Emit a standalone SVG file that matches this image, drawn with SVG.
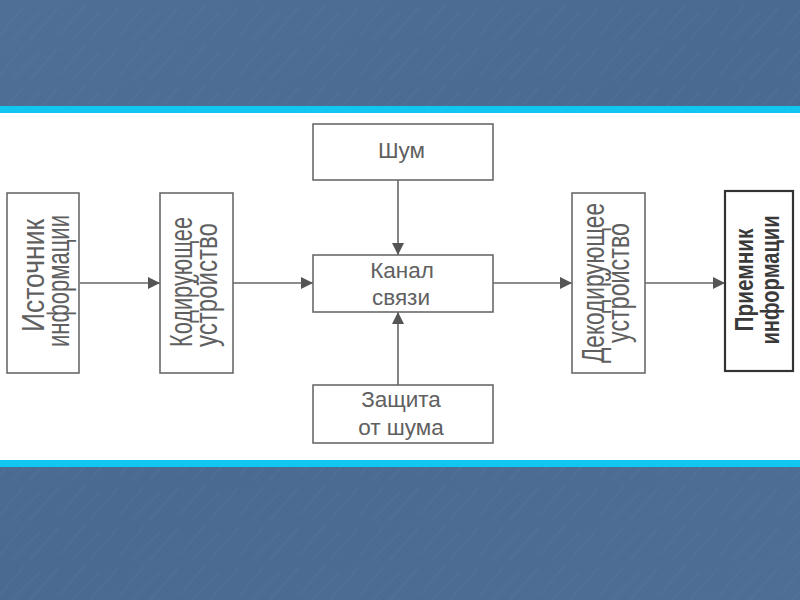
<svg xmlns="http://www.w3.org/2000/svg" width="800" height="600" viewBox="0 0 800 600">
  <defs>
    <linearGradient id="bg" x1="0" y1="0" x2="1" y2="1">
      <stop offset="0" stop-color="#4f6f97"/>
      <stop offset="0.5" stop-color="#4a6a91"/>
      <stop offset="1" stop-color="#4e6e96"/>
    </linearGradient>
    <pattern id="tex" width="60" height="40" patternUnits="userSpaceOnUse">
      <path d="M0,35 L25,5 M30,40 L58,8 M12,40 L40,12" stroke="#8aa2c0" stroke-width="1.2" stroke-opacity="0.08" fill="none"/>
    </pattern>
    <marker id="ah" viewBox="0 0 12 12" refX="12" refY="6" markerWidth="12" markerHeight="12" markerUnits="userSpaceOnUse" orient="auto">
      <path d="M0,0 L12,6 L0,12 z" fill="#555"/>
    </marker>
    <style>
      .box { fill: #fff; stroke: #6a6a6a; stroke-width: 1.6; }
      .box2 { fill: #fff; stroke: #333; stroke-width: 2.2; }
      .t { font-family: "Liberation Sans", Arial, sans-serif; fill: #606060; }
      .v { font-size: 31px; text-anchor: middle; }
      .vb { font-size: 25px; font-weight: bold; text-anchor: middle; fill: #3a3a3a; }
      .h { font-size: 22.5px; text-anchor: middle; }
      .c { stroke: #666; stroke-width: 1.6; fill: none; marker-end: url(#ah); }
    </style>
  </defs>

  <rect x="0" y="0" width="800" height="600" fill="url(#bg)"/>
  <rect x="0" y="0" width="800" height="600" fill="url(#tex)"/>
  <rect x="0" y="106" width="800" height="7" fill="#12c6f2"/>
  <rect x="0" y="113" width="800" height="347" fill="#ffffff"/>
  <rect x="0" y="460" width="800" height="7" fill="#12c6f2"/>

  <g id="connectors">
    <line class="c" x1="80" y1="283" x2="160" y2="283"/>
    <line class="c" x1="233" y1="283" x2="313" y2="283"/>
    <line class="c" x1="493" y1="283" x2="572" y2="283"/>
    <line class="c" x1="645" y1="283" x2="725" y2="283"/>
    <line class="c" x1="398" y1="180" x2="398" y2="255"/>
    <line class="c" x1="398" y1="385" x2="398" y2="312"/>
  </g>

  <g id="source">
    <rect class="box" x="7" y="193" width="72" height="180"/>
    <text class="t v" transform="translate(44,275.5) rotate(-90)" textLength="113" lengthAdjust="spacingAndGlyphs">Источник</text>
    <text class="t v" transform="translate(69,281) rotate(-90)" textLength="132" lengthAdjust="spacingAndGlyphs">информации</text>
  </g>

  <g id="encoder">
    <rect class="box" x="160" y="193" width="73" height="180"/>
    <text class="t v" transform="translate(192,282) rotate(-90)" textLength="130" lengthAdjust="spacingAndGlyphs">Кодирующее</text>
    <text class="t v" transform="translate(217,285) rotate(-90)" textLength="124" lengthAdjust="spacingAndGlyphs">устройство</text>
  </g>

  <g id="noise">
    <rect class="box" x="313" y="124" width="180" height="56"/>
    <text class="t h" x="401.5" y="158">Шум</text>
  </g>

  <g id="channel">
    <rect class="box" x="313" y="255" width="180" height="57"/>
    <text class="t h" x="402" y="278">Канал</text>
    <text class="t h" x="401" y="305">связи</text>
  </g>

  <g id="protection">
    <rect class="box" x="313" y="385" width="180" height="58"/>
    <text class="t h" x="401" y="407">Защита</text>
    <text class="t h" x="401" y="435">от шума</text>
  </g>

  <g id="decoder">
    <rect class="box" x="572" y="193" width="73" height="180"/>
    <text class="t v" transform="translate(604,283) rotate(-90)" textLength="160" lengthAdjust="spacingAndGlyphs">Декодирующее</text>
    <text class="t v" transform="translate(629,283) rotate(-90)" textLength="120" lengthAdjust="spacingAndGlyphs">устройство</text>
  </g>

  <g id="receiver">
    <rect class="box2" x="725" y="191" width="68" height="180"/>
    <text class="t vb" transform="translate(753,280) rotate(-90)" textLength="103" lengthAdjust="spacingAndGlyphs">Приемник</text>
    <text class="t vb" transform="translate(779,280) rotate(-90)" textLength="129" lengthAdjust="spacingAndGlyphs">информации</text>
  </g>
</svg>
